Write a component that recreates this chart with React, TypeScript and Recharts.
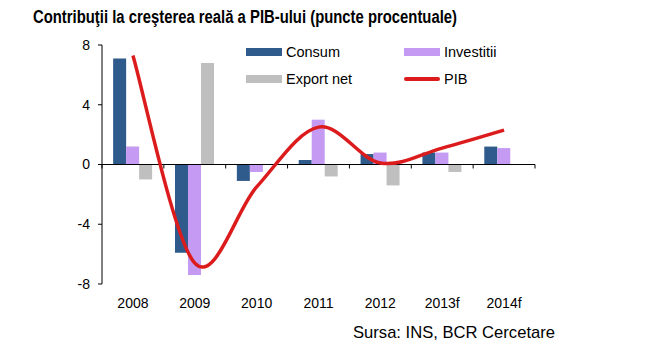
import {
	ComposedChart,
	Bar,
	Line,
	XAxis,
	YAxis,
	ReferenceLine,
} from "recharts";

const years = ["2008", "2009", "2010", "2011", "2012", "2013f", "2014f"];
const consum = [7.1, -5.9, -1.1, 0.3, 0.7, 0.8, 1.2];
const investitii = [1.2, -7.4, -0.5, 3.0, 0.8, 0.8, 1.1];
const exportNet = [-1.0, 6.8, 0, -0.8, -1.4, -0.5, 0];
const pib = [7.3, -6.6, -1.5, 2.5, 0.1, 1.1, 2.3];
const yTicks = [-8, -4, 0, 4, 8];

const data = years.map((year, i) => ({
	year,
	consum: consum[i],
	investitii: investitii[i],
	exportNet: exportNet[i],
	pib: pib[i],
}));

const FONT = "'Liberation Sans', Arial, sans-serif";
const BLUE = "#2f5a8c";
const LILAC = "#c49af2";
const GREY = "#bfbfbf";
const RED = "#dc1c1c";

// Excel-like smoothed line (Catmull-Rom through the points)
function smoothCurve(context: any) {
	let pts: number[][] = [];
	return {
		areaStart() {},
		areaEnd() {},
		lineStart() {
			pts = [];
		},
		point(x: number, y: number) {
			pts.push([x, y]);
		},
		lineEnd() {
			if (!pts.length) return;
			context.moveTo(pts[0][0], pts[0][1]);
			for (let i = 0; i < pts.length - 1; i++) {
				const p0 = pts[Math.max(i - 1, 0)];
				const p1 = pts[i];
				const p2 = pts[i + 1];
				const p3 = pts[Math.min(i + 2, pts.length - 1)];
				context.bezierCurveTo(
					p1[0] + (p2[0] - p0[0]) / 6,
					p1[1] + (p2[1] - p0[1]) / 6,
					p2[0] - (p3[0] - p1[0]) / 6,
					p2[1] - (p3[1] - p1[1]) / 6,
					p2[0],
					p2[1],
				);
			}
		},
	};
}

// zero line with small category ticks under it
function ZeroAxis(props: any) {
	const { x1, x2, y1 } = props;
	const step = (x2 - x1) / years.length;
	return (
		<g>
			<line x1={x1} x2={x2} y1={y1} y2={y1} stroke="#000" strokeWidth={1} />
			{years.concat("").map((_, i) => (
				<line
					key={i}
					x1={x1 + step * i}
					x2={x1 + step * i}
					y1={y1}
					y2={y1 + 4}
					stroke="#000"
					strokeWidth={1}
				/>
			))}
		</g>
	);
}

const legendItems = [
	{ name: "Consum", color: BLUE, kind: "bar" },
	{ name: "Investitii", color: LILAC, kind: "bar" },
	{ name: "Export net", color: GREY, kind: "bar" },
	{ name: "PIB", color: RED, kind: "line" },
];

function ChartLegend() {
	return (
		<div
			style={{
				position: "absolute",
				left: 246,
				top: 43,
				display: "grid",
				gridTemplateColumns: "158px 158px",
				rowGap: 10,
				fontFamily: FONT,
				fontSize: 14.5,
				color: "#000",
			}}
		>
			{legendItems.map((item) => (
				<div
					key={item.name}
					style={{ display: "flex", alignItems: "center", height: 17 }}
				>
					<span
						style={{
							display: "inline-block",
							width: 36,
							height: item.kind === "line" ? 4 : 8,
							background: item.color,
							borderRadius: item.kind === "line" ? 2 : 0,
							marginRight: 4,
						}}
					/>
					{item.name}
				</div>
			))}
		</div>
	);
}

export default function App() {
	return (
		<div
			style={{
				position: "absolute",
				left: 0,
				top: 0,
				width: 650,
				height: 360,
				background: "#fff",
			}}
		>
			<ComposedChart
				width={650}
				height={360}
				data={data}
				margin={{ top: 45, right: 115, bottom: 46, left: 62 }}
				barCategoryGap="18%"
				barGap={0}
			>
				<XAxis
					dataKey="year"
					axisLine={false}
					tickLine={false}
					tickMargin={8}
					tick={{ fill: "#000", fontSize: 14, fontFamily: FONT }}
				/>
				<YAxis
					domain={[-8, 8]}
					ticks={yTicks}
					width={40}
					axisLine={{ stroke: "#000" }}
					tickLine={{ stroke: "#000" }}
					tickSize={4}
					tickMargin={8}
					tick={{ fill: "#000", fontSize: 14, fontFamily: FONT }}
				/>
				<ReferenceLine y={0} shape={ZeroAxis} />
				<Bar dataKey="consum" fill={BLUE} isAnimationActive={false} />
				<Bar dataKey="investitii" fill={LILAC} isAnimationActive={false} />
				<Bar dataKey="exportNet" fill={GREY} isAnimationActive={false} />
				<Line
					dataKey="pib"
					type={smoothCurve as any}
					stroke={RED}
					strokeWidth={3.5}
					dot={false}
					isAnimationActive={false}
				/>
			</ComposedChart>
			<ChartLegend />
			<svg
				width={650}
				height={360}
				style={{ position: "absolute", left: 0, top: 0, pointerEvents: "none" }}
			>
				<text
					x={33}
					y={23}
					fontFamily={FONT}
					fontWeight="bold"
					fontSize={18}
					textLength={424}
					lengthAdjust="spacingAndGlyphs"
				>
					Contribuţii la creşterea reală a PIB-ului (puncte procentuale)
				</text>
				<text
					x={353}
					y={338}
					fontFamily={FONT}
					fontSize={17}
					textLength={202}
					lengthAdjust="spacingAndGlyphs"
				>
					Sursa: INS, BCR Cercetare
				</text>
			</svg>
		</div>
	);
}
